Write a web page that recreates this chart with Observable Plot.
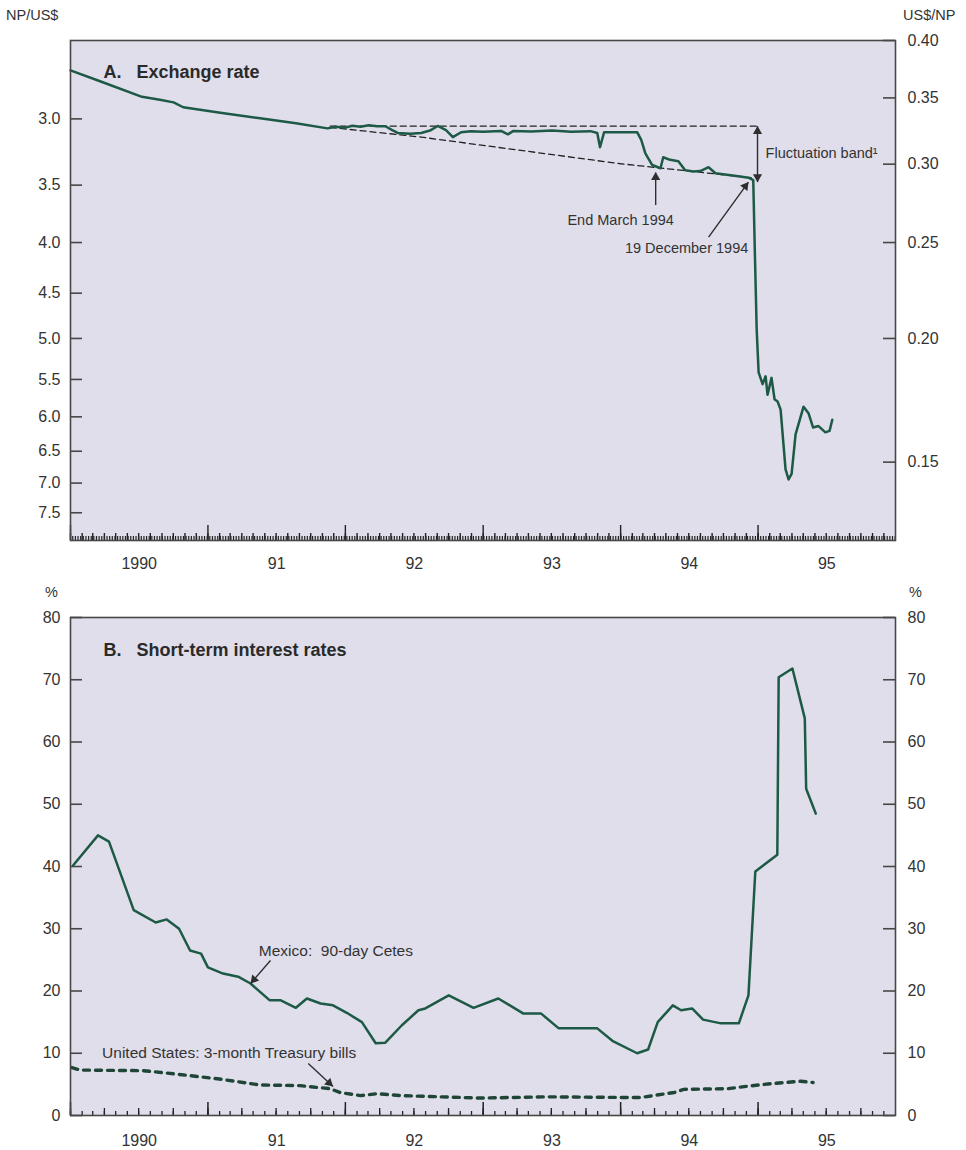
<!DOCTYPE html>
<html><head><meta charset="utf-8">
<script src="https://cdn.jsdelivr.net/npm/d3@7"></script>
<script src="https://cdn.jsdelivr.net/npm/@observablehq/plot@0.6"></script>
<style>
body{margin:0;background:#fff;font-family:"Liberation Sans",Arial,sans-serif;}
#wrap{position:relative;width:966px;height:1150px;overflow:hidden;}
.lab{position:absolute;font-size:14.5px;color:#333;line-height:1;}
.panel{position:absolute;left:0;}
</style></head><body><div id="wrap">
<div class="lab" style="left:6px;top:8px">NP/US$</div>
<div class="lab" style="left:903px;top:8px">US$/NP</div>
<div class="lab" style="left:45px;top:585px">%</div>
<div class="lab" style="left:909px;top:585px">%</div>
<div class="panel" id="p1" style="top:0px"></div>
<div class="panel" id="p2" style="top:580px"></div>
</div>
<script>
// ---------- data (decimal years) ----------
const fxYear = [1990.00,1990.22,1990.52,1990.65,1990.75,1990.82,1991.09,1991.38,1991.64,1991.87,1991.93,1992.00,1992.05,1992.11,1992.17,1992.23,1992.29,1992.34,1992.38,1992.47,1992.55,1992.62,1992.67,1992.73,1992.78,1992.84,1992.91,1993.00,1993.13,1993.18,1993.22,1993.35,1993.50,1993.64,1993.78,1993.83,1993.85,1993.88,1994.00,1994.12,1994.15,1994.18,1994.23,1994.29,1994.31,1994.36,1994.42,1994.47,1994.53,1994.58,1994.64,1994.69,1994.80,1994.87,1994.93,1994.965,1994.975,1994.99,1995.004,1995.033,1995.055,1995.069,1995.098,1995.12,1995.142,1995.164,1995.20,1995.222,1995.244,1995.273,1995.331,1995.367,1995.40,1995.44,1995.49,1995.52,1995.54];
const fxRate = [2.68,2.75,2.85,2.87,2.887,2.92,2.958,2.996,3.031,3.067,3.055,3.062,3.048,3.055,3.045,3.052,3.052,3.08,3.10,3.105,3.10,3.08,3.05,3.08,3.13,3.095,3.087,3.092,3.085,3.11,3.085,3.09,3.083,3.092,3.087,3.10,3.205,3.094,3.094,3.094,3.15,3.25,3.34,3.365,3.28,3.30,3.31,3.38,3.39,3.387,3.357,3.404,3.42,3.43,3.44,3.46,4.00,4.90,5.41,5.56,5.46,5.70,5.48,5.76,5.79,5.90,6.78,6.94,6.85,6.25,5.86,5.95,6.15,6.13,6.22,6.20,6.04];

const bandUpperYear = [1991.89, 1994.996];
const bandUpperRate = [3.0512, 3.0512];
const bandLowerYear = [1991.89, 1992.55, 1994.00, 1994.95];
const bandLowerRate = [3.06, 3.13, 3.33, 3.44];

const cetesYear = [1990.02,1990.20,1990.28,1990.46,1990.62,1990.70,1990.79,1990.87,1990.95,1991.00,1991.11,1991.22,1991.31,1991.45,1991.53,1991.64,1991.72,1991.82,1991.91,1992.01,1992.12,1992.22,1992.29,1992.41,1992.53,1992.58,1992.75,1992.93,1993.11,1993.29,1993.42,1993.55,1993.83,1993.94,1994.12,1994.20,1994.27,1994.38,1994.44,1994.52,1994.60,1994.73,1994.86,1994.93,1994.98,1995.14,1995.15,1995.25,1995.34,1995.35,1995.42];
const cetesRate = [40.2,45.0,44.0,33.0,31.0,31.5,30.0,26.5,26.0,23.8,22.8,22.3,21.2,18.5,18.5,17.3,18.8,18.0,17.7,16.5,15.0,11.6,11.7,14.5,16.9,17.2,19.3,17.3,18.8,16.4,16.4,14.0,14.0,12.0,10.0,10.6,15.0,17.7,16.9,17.2,15.4,14.8,14.8,19.3,39.2,41.9,70.4,71.8,63.8,52.5,48.5];

const tbillYear = [1990.01,1990.07,1990.53,1990.75,1991.07,1991.38,1991.67,1991.89,1991.96,1992.11,1992.23,1992.40,1992.98,1993.47,1994.00,1994.15,1994.39,1994.46,1994.78,1994.92,1995.09,1995.31,1995.40];
const tbillRate = [7.7,7.3,7.2,6.7,5.9,4.9,4.8,4.3,3.7,3.2,3.5,3.2,2.8,3.0,2.9,2.9,3.7,4.2,4.3,4.7,5.1,5.5,5.3];

const yearLabels = ["1990","91","92","93","94","95"];
const yearLabelPos = [1990.5,1991.5,1992.5,1993.5,1994.5,1995.5];
const npTicks = [3.0,3.5,4.0,4.5,5.0,5.5,6.0,6.5,7.0,7.5];
const usdTicks = [0.40,0.35,0.30,0.25,0.20,0.15];
const pctTicks = [0,10,20,30,40,50,60,70,80];

// annotations (data coordinates)
const fxNotesMid = [
  {t: 1994.00, v: 3.80, text: "End March 1994"},
  {t: 1994.48, v: 4.05, text: "19 December 1994"}
];
const fxNotesStart = [
  {t: 1995.055, v: 3.25, text: "Fluctuation band\u00b9"}
];
const fxLinks = [
  {t1: 1994.255, v1: 3.666, t2: 1994.255, v2: 3.40},
  {t1: 1994.64, v1: 3.95, t2: 1994.93, v2: 3.475},
  {t1: 1994.996, v1: 3.0512, t2: 1994.996, v2: 3.475}
];
const fxHeads = [
  {t: 1994.255, v: 3.396, rot: 0},
  {t: 1994.93, v: 3.475, rot: 36.7},
  {t: 1994.996, v: 3.0512, rot: 0},
  {t: 1994.996, v: 3.475, rot: 180}
];
const rateNotes = [
  {t: 1991.37, v: 26.5, text: "Mexico:  90-day Cetes"},
  {t: 1990.23, v: 10.1, text: "United States: 3-month Treasury bills"}
];
const rateLinks = [
  {t1: 1991.455, v1: 24.9, t2: 1991.31, v2: 21.2},
  {t1: 1991.73, v1: 8.35, t2: 1991.91, v2: 4.66}
];
const rateHeads = [
  {t: 1991.31, v: 21.2, rot: -139},
  {t: 1991.91, v: 4.66, rot: 132.6}
];

// ---------- helpers ----------
function toDate(t){const y=Math.floor(t);const s=Date.UTC(y,0,1),e=Date.UTC(y+1,0,1);return new Date(s+(t-y)*(e-s));}
const zip = (ts, vs) => ts.map((t,i)=>({date: toDate(t), v: vs[i]}));
const fx = zip(fxYear, fxRate);
const bandU = zip(bandUpperYear, bandUpperRate);
const bandL = zip(bandLowerYear, bandLowerRate);
const cetes = zip(cetesYear, cetesRate);
const tbill = zip(tbillYear, tbillRate);
const labels = yearLabels.map((s,i)=>({date: toDate(yearLabelPos[i]), s}));

const X0 = new Date(Date.UTC(1990,0,1)), X1 = new Date(Date.UTC(1996,0,1));
const weeks = d3.utcWeek.range(X0, X1);
const months = d3.utcMonth.range(X0, X1);
const quarters = d3.utcMonth.every(3).range(X0, X1);
const years = d3.utcYear.range(X0, X1);

const W = 966, mL = 70, mR = 71, pw = W - mL - mR;
const GREEN = "#1d5a46", INK = "#2e2e2e", BG = "#e0deeb", FRAME = "#474747";
const FONT = "Liberation Sans, Arial, sans-serif";
const style = {fontFamily: FONT, fontSize: "16px", color: "#333", background: "none", overflow: "visible"};

const HEAD_R = 3.4, HEAD_OFF = 5.2;
const headMarks = (heads) => heads.map(h => {
  const a = h.rot * Math.PI / 180;
  return Plot.dot([h], {x: d=>toDate(d.t), y: "v", symbol: "triangle", r: HEAD_R, fill: INK, stroke: null,
    rotate: h.rot, dx: -HEAD_OFF*Math.sin(a), dy: HEAD_OFF*Math.cos(a)});
});

// ---------- panel A ----------
const H1 = 570, mT1 = 40, mB1 = 30, ph1 = H1 - mT1 - mB1;
const p1 = Plot.plot({
  width: W, height: H1, marginTop: mT1, marginBottom: mB1, marginLeft: mL, marginRight: mR,
  style,
  x: {type: "utc", domain: [X0, X1], axis: null},
  y: {type: "log", domain: [2.5, 8.0], reverse: true, axis: null},
  marks: [
    Plot.frame({fill: BG, stroke: null}),
    Plot.tickX(weeks, {x: d=>d, insetTop: ph1-4, stroke: "#222", strokeWidth: 1.2}),
    Plot.tickX(months, {x: d=>d, insetTop: ph1-7, stroke: "#222", strokeWidth: 1.4}),
    Plot.tickX(years, {x: d=>d, insetTop: ph1-15, stroke: "#222", strokeWidth: 1.4}),
    Plot.tickY(npTicks, {y: d=>d, insetRight: pw-12, stroke: FRAME, strokeWidth: 1.6}),
    Plot.tickY(usdTicks.map(v=>1/v), {y: d=>d, insetLeft: pw-12, stroke: FRAME, strokeWidth: 1.6}),
    Plot.axisY(npTicks, {anchor: "left", tickSize: 0, tickPadding: 10, tickFormat: d=>d.toFixed(1), fontSize: 16, label: null}),
    Plot.axisY(usdTicks.map(v=>1/v), {anchor: "right", tickSize: 0, tickPadding: 12, tickFormat: d=>(1/d).toFixed(2), fontSize: 16, label: null}),
    Plot.text(labels, {x: "date", text: "s", frameAnchor: "bottom", lineAnchor: "middle", dy: 23, fontSize: 16}),
    Plot.line(bandU, {x: "date", y: "v", stroke: "#222", strokeWidth: 1.3, strokeDasharray: "6,4"}),
    Plot.line(bandL, {x: "date", y: "v", stroke: "#222", strokeWidth: 1.3, strokeDasharray: "6,4"}),
    Plot.line(fx, {x: "date", y: "v", stroke: GREEN, strokeWidth: 2.5}),
    Plot.link(fxLinks, {x1: d=>toDate(d.t1), y1: "v1", x2: d=>toDate(d.t2), y2: "v2", stroke: INK, strokeWidth: 1.4}),
    ...headMarks(fxHeads),
    Plot.text(fxNotesMid, {x: d=>toDate(d.t), y: "v", text: "text", textAnchor: "middle", fontSize: 14.5, fill: "#333"}),
    Plot.text(fxNotesStart, {x: d=>toDate(d.t), y: "v", text: "text", textAnchor: "start", fontSize: 14.5, fill: "#333"}),
    Plot.text(["A.\u00a0\u00a0\u00a0Exchange rate"], {frameAnchor: "top-left", textAnchor: "start", lineAnchor: "middle", dx: 33, dy: 32, fontSize: 18, fontWeight: "bold", fill: "#2a2a2a"}),
    Plot.frame({stroke: FRAME, strokeWidth: 1.6})
  ]
});
document.getElementById("p1").appendChild(p1);

// ---------- panel B ----------
const H2 = 570, mT2 = 37, mB2 = 35, ph2 = H2 - mT2 - mB2;
const p2 = Plot.plot({
  width: W, height: H2, marginTop: mT2, marginBottom: mB2, marginLeft: mL, marginRight: mR,
  style,
  x: {type: "utc", domain: [X0, X1], axis: null},
  y: {type: "linear", domain: [0, 80], axis: null},
  marks: [
    Plot.frame({fill: BG, stroke: null}),
    Plot.tickX(months, {x: d=>d, insetTop: ph2-4, stroke: "#222", strokeWidth: 1.3}),
    Plot.tickX(quarters, {x: d=>d, insetTop: ph2-7, stroke: "#222", strokeWidth: 1.3}),
    Plot.tickX(years, {x: d=>d, insetTop: ph2-13, stroke: "#222", strokeWidth: 1.5}),
    Plot.tickY(pctTicks, {y: d=>d, insetRight: pw-12, stroke: FRAME, strokeWidth: 1.6}),
    Plot.tickY(pctTicks, {y: d=>d, insetLeft: pw-12, stroke: FRAME, strokeWidth: 1.6}),
    Plot.axisY(pctTicks, {anchor: "left", tickSize: 0, tickPadding: 10, fontSize: 16, label: null}),
    Plot.axisY(pctTicks, {anchor: "right", tickSize: 0, tickPadding: 12, fontSize: 16, label: null}),
    Plot.text(labels, {x: "date", text: "s", frameAnchor: "bottom", lineAnchor: "middle", dy: 25, fontSize: 16}),
    Plot.line(tbill, {x: "date", y: "v", stroke: "#1e4536", strokeWidth: 3.4, strokeDasharray: "6,6"}),
    Plot.line(cetes, {x: "date", y: "v", stroke: GREEN, strokeWidth: 2.5}),
    Plot.link(rateLinks, {x1: d=>toDate(d.t1), y1: "v1", x2: d=>toDate(d.t2), y2: "v2", stroke: INK, strokeWidth: 1.4}),
    ...headMarks(rateHeads),
    Plot.text(rateNotes, {x: d=>toDate(d.t), y: "v", text: "text", textAnchor: "start", fontSize: 15.5, fill: "#333"}),
    Plot.text(["B.\u00a0\u00a0\u00a0Short-term interest rates"], {frameAnchor: "top-left", textAnchor: "start", lineAnchor: "middle", dx: 33, dy: 33, fontSize: 18, fontWeight: "bold", fill: "#2a2a2a"}),
    Plot.frame({stroke: FRAME, strokeWidth: 1.6})
  ]
});
document.getElementById("p2").appendChild(p2);
</script>
</body></html>
